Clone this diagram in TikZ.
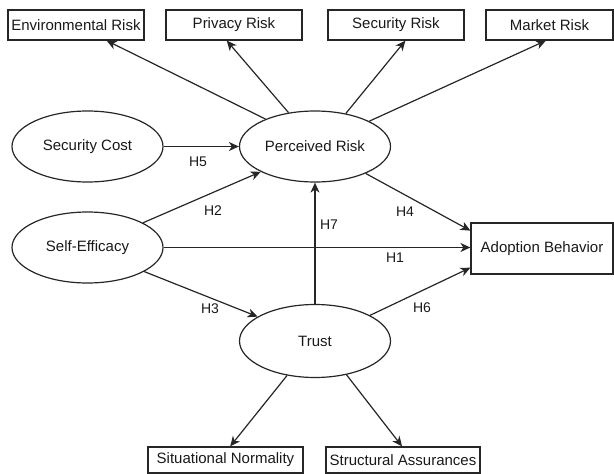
\documentclass[tikz,border=0pt]{standalone}
\usepackage{fontspec}
\setmainfont{Liberation Sans}
\usetikzlibrary{shapes.geometric,arrows.meta}
\begin{document}
\begin{tikzpicture}[x=1pt,y=-1pt,
  every node/.style={font=\fontsize{15}{18}\selectfont, text=black!90},
  obox/.style={draw=black!85, line width=1.2pt, rectangle, inner sep=0pt},
  oval/.style={draw=black!85, line width=1.2pt, ellipse, inner sep=0pt, minimum width=151pt, minimum height=71pt},
  link/.style={draw=black!85, line width=1.2pt, -{Stealth[length=10pt,width=9pt,inset=3pt]}},
  hlab/.style={font=\fontsize{14}{16}\selectfont, text=black!90, inner sep=0pt}
]
\useasboundingbox (0,0) rectangle (614,474);
% top boxes
\node[obox, minimum width=136pt, minimum height=30pt] (env) at (76,25) {Environmental Risk};
\node[obox, minimum width=136pt, minimum height=30pt] (priv) at (234,25) {Privacy Risk};
\node[obox, minimum width=136pt, minimum height=30pt] (sec) at (396,25) {Security Risk};
\node[obox, minimum width=127pt, minimum height=30pt] (mkt) at (549.5,25) {Market Risk};
% ellipses
\node[oval] (SC) at (87.5,146.5) {Security Cost};
\node[oval] (PR) at (315,146.5) {Perceived Risk};
\node[oval] (SE) at (87.5,247.5) {Self-Efficacy};
\node[oval, minimum height=73pt] (TR) at (315,341) {Trust};
% right box
\node[obox, minimum width=142pt, minimum height=51pt] (AB) at (542,248.5) {Adoption Behavior};
% bottom boxes
\node[obox, minimum width=155pt, minimum height=26pt] (SN) at (225.5,460) {Situational Normality};
\node[obox, minimum width=154pt, minimum height=26pt] (SA) at (403,460) {Structural Assurances};
% edges from perceived risk to dimensions
\draw[link] (PR.151) -- (env.333);
\draw[link] (PR.128) -- (priv.245);
\draw[link] (PR.47) -- (sec.301);
\draw[link] (PR.25.7) -- (mkt.257);
% hypotheses
\draw[link] (SC.east) -- (PR.west);
\draw[link] (SE.24) -- (PR.205.7);
\draw[link] (SE.east) -- (SE.east -| AB.west);
\draw[link] (SE.337) -- (TR.157.4);
\draw[link] (TR.north) -- (PR.south);
\draw[link] (PR.332) -- (AB.166);
\draw[link] (TR.25.3) -- (AB.195);
% trust dimensions
\draw[link] (TR.231.5) -- (SN.71);
\draw[link] (TR.313) -- (SA.94);
% labels
\node[hlab] (h5) at (198,162) {H5};
\node[hlab] (h2) at (213,211) {H2};
\node[hlab] (h1) at (395,258) {H1};
\node[hlab] (h3) at (210,309) {H3};
\node[hlab] (h7) at (329,225) {H7};
\node[hlab] (h4) at (405,212) {H4};
\node[hlab] (h6) at (422,308) {H6};
\end{tikzpicture}
\end{document}
